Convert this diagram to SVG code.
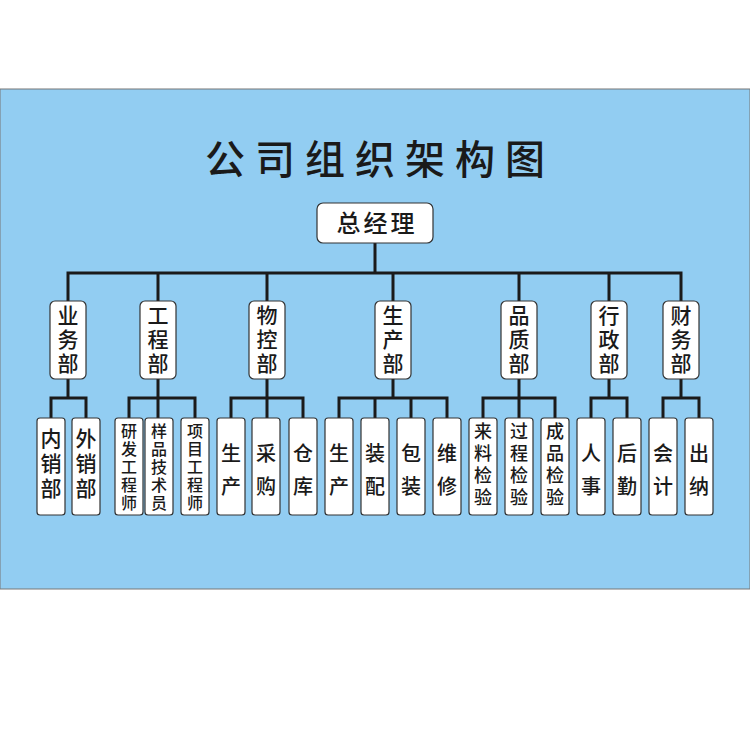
<svg xmlns="http://www.w3.org/2000/svg" width="750" height="750" viewBox="0 0 750 750">
<style>
.b{fill:#fff;stroke:#333;stroke-width:1.2}
text{font-family:"Noto Sans CJK SC",sans-serif;fill:#1a1a1a;font-weight:500}
.v{writing-mode:vertical-rl;text-anchor:start}
.m{font-size:21px;letter-spacing:3px}
.l3{font-size:21px;letter-spacing:4px}
.l5{font-size:16px;letter-spacing:2px}
.l4{font-size:18px;letter-spacing:4px}
.l2{font-size:20px;letter-spacing:13px}
#conn path{fill:none;stroke:#1a1a1a;stroke-width:3}
</style>
<rect width="750" height="750" fill="#fff"/>
<rect x="0" y="89" width="750" height="500" fill="#92cdf2" stroke="#777"/>
<text x="380" y="174" font-size="40" font-weight="bold" letter-spacing="10" text-anchor="middle">公司组织架构图</text>
<g id="conn">
<path d="M375 243V273M68 301V273H681V301M158 273V301M267 273V301M393 273V301M519 273V301M609 273V301"/>
<path d="M68 379V398M51 418V398H86V418"/>
<path d="M158 379V418M129 418V398H195V418"/>
<path d="M267 379V418M231 418V398H303V418"/>
<path d="M393 379V398M339 418V398H447V418M375 398V418M411 398V418"/>
<path d="M519 379V418M483 418V398H555V418"/>
<path d="M609 379V398M591 418V398H627V418"/>
<path d="M681 379V398M663 418V398H699V418"/>
</g>
<g id="top"><rect class="b" x="317" y="203" width="116" height="40" rx="6"/><text x="377" y="232" font-size="24" font-weight="bold" letter-spacing="3" text-anchor="middle">总经理</text></g>
<g id="mid">
<g id="m1"><rect class="b" x="50" y="301" width="36" height="78" rx="5"/><text class="v m" x="68" y="305">业务部</text></g>
<g id="m2"><rect class="b" x="140" y="301" width="36" height="78" rx="5"/><text class="v m" x="158" y="305">工程部</text></g>
<g id="m3"><rect class="b" x="249" y="301" width="36" height="78" rx="5"/><text class="v m" x="267" y="305">物控部</text></g>
<g id="m4"><rect class="b" x="375" y="301" width="36" height="78" rx="5"/><text class="v m" x="393" y="305">生产部</text></g>
<g id="m5"><rect class="b" x="501" y="301" width="36" height="78" rx="5"/><text class="v m" x="519" y="305">品质部</text></g>
<g id="m6"><rect class="b" x="591" y="301" width="36" height="78" rx="5"/><text class="v m" x="609" y="305">行政部</text></g>
<g id="m7"><rect class="b" x="663" y="301" width="36" height="78" rx="5"/><text class="v m" x="681" y="305">财务部</text></g>
</g>
<g id="leaves">
<g id="l1"><rect class="b" x="37" y="418" width="28" height="97" rx="3"/><text class="v l3" x="51" y="428">内销部</text></g>
<g id="l2"><rect class="b" x="72" y="418" width="28" height="97" rx="3"/><text class="v l3" x="86" y="428">外销部</text></g>
<g id="l3"><rect class="b" x="115" y="418" width="28" height="97" rx="3"/><text class="v l5" x="129" y="423">研发工程师</text></g>
<g id="l4"><rect class="b" x="145" y="418" width="28" height="97" rx="3"/><text class="v l5" x="159" y="423">样品技术员</text></g>
<g id="l5"><rect class="b" x="181" y="418" width="28" height="97" rx="3"/><text class="v l5" x="195" y="423">项目工程师</text></g>
<g id="l6"><rect class="b" x="217" y="418" width="28" height="97" rx="3"/><text class="v l2" x="231" y="443">生产</text></g>
<g id="l7"><rect class="b" x="252" y="418" width="28" height="97" rx="3"/><text class="v l2" x="266" y="443">采购</text></g>
<g id="l8"><rect class="b" x="289" y="418" width="28" height="97" rx="3"/><text class="v l2" x="303" y="443">仓库</text></g>
<g id="l9"><rect class="b" x="325" y="418" width="28" height="97" rx="3"/><text class="v l2" x="339" y="443">生产</text></g>
<g id="l10"><rect class="b" x="361" y="418" width="28" height="97" rx="3"/><text class="v l2" x="375" y="443">装配</text></g>
<g id="l11"><rect class="b" x="397" y="418" width="28" height="97" rx="3"/><text class="v l2" x="411" y="443">包装</text></g>
<g id="l12"><rect class="b" x="433" y="418" width="28" height="97" rx="3"/><text class="v l2" x="447" y="443">维修</text></g>
<g id="l13"><rect class="b" x="469" y="418" width="28" height="97" rx="3"/><text class="v l4" x="483" y="422">来料检验</text></g>
<g id="l14"><rect class="b" x="505" y="418" width="28" height="97" rx="3"/><text class="v l4" x="519" y="422">过程检验</text></g>
<g id="l15"><rect class="b" x="541" y="418" width="28" height="97" rx="3"/><text class="v l4" x="555" y="422">成品检验</text></g>
<g id="l16"><rect class="b" x="577" y="418" width="28" height="97" rx="3"/><text class="v l2" x="591" y="443">人事</text></g>
<g id="l17"><rect class="b" x="613" y="418" width="28" height="97" rx="3"/><text class="v l2" x="627" y="443">后勤</text></g>
<g id="l18"><rect class="b" x="649" y="418" width="28" height="97" rx="3"/><text class="v l2" x="663" y="443">会计</text></g>
<g id="l19"><rect class="b" x="685" y="418" width="28" height="97" rx="3"/><text class="v l2" x="699" y="443">出纳</text></g>
</g>
</svg>
